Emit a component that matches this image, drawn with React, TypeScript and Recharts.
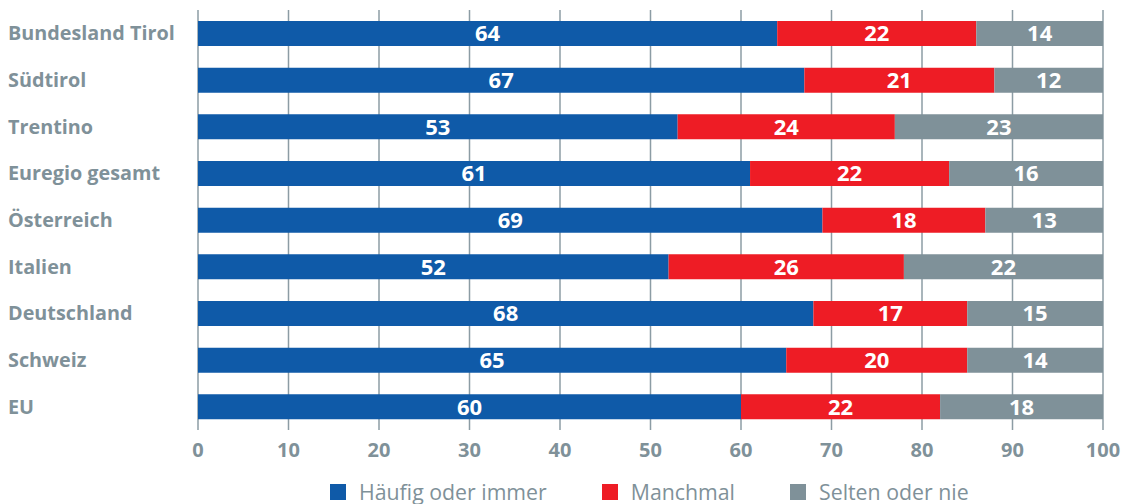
import { Bar, BarChart, CartesianGrid, LabelList, XAxis, YAxis } from "recharts";

const regions = [
  "Bundesland Tirol",
  "Südtirol",
  "Trentino",
  "Euregio gesamt",
  "Österreich",
  "Italien",
  "Deutschland",
  "Schweiz",
  "EU"
];

// widths as measured from the bars; labels as printed
const haeufig = [64, 67, 53, 61, 69, 52, 68, 65, 60];
const manchmal = [22, 21, 24, 22, 18, 26, 17, 20, 22];
const selten = [14, 12, 23, 17, 13, 22, 15, 15, 18];

const haeufigLabels = ["64", "67", "53", "61", "69", "52", "68", "65", "60"];
const manchmalLabels = ["22", "21", "24", "22", "18", "26", "17", "20", "22"];
const seltenLabels = ["14", "12", "23", "16", "13", "22", "15", "14", "18"];

const xTicks = [0, 10, 20, 30, 40, 50, 60, 70, 80, 90, 100];

const legendItems = [
  { name: "Häufig oder immer", color: "#0f5aa8" },
  { name: "Manchmal", color: "#ee1c25" },
  { name: "Selten oder nie", color: "#7f9199" }
];

const data = regions.map((region, i) => ({
  region,
  haeufig: haeufig[i],
  manchmal: manchmal[i],
  selten: selten[i],
  hL: haeufigLabels[i],
  mL: manchmalLabels[i],
  sL: seltenLabels[i]
}));

const font = "'Open Sans', 'Noto Sans', sans-serif";
const grey = "#7f9199";

function RegionTick({ y, payload }: any) {
  return (
    <text x={8} y={y} dy={7} textAnchor="start" fill={grey} fontSize={19.8} fontWeight={700} fontFamily={font}>
      {payload.value}
    </text>
  );
}

const labelStyle = { fill: "#ffffff", fontSize: 22, fontWeight: 700, fontFamily: font };

export default function App() {
  return (
    <div style={{ width: 1124, height: 504, position: "relative", background: "#fff" }}>
      <style>{"body{margin:0}.recharts-surface{overflow:visible}"}</style>
      <BarChart
        width={1124}
        height={470}
        data={data}
        layout="vertical"
        barCategoryGap={11}
        margin={{ top: 10, right: 21, bottom: 0, left: 0 }}
      >
        <CartesianGrid horizontal={false} stroke="#8c9ca4" strokeWidth={1.5} />
        <XAxis
          type="number"
          domain={[0, 100]}
          ticks={xTicks}
          axisLine={false}
          tickLine={false}
          tick={{ fill: grey, fontSize: 20, fontWeight: 700, fontFamily: font }}
          tickMargin={7}
          height={40}
        />
        <YAxis type="category" dataKey="region" width={198} axisLine={false} tickLine={false} tick={<RegionTick />} />
        <Bar dataKey="haeufig" stackId="a" fill="#0f5aa8" isAnimationActive={false}>
          <LabelList dataKey="hL" position="center" style={labelStyle} />
        </Bar>
        <Bar dataKey="manchmal" stackId="a" fill="#ee1c25" isAnimationActive={false}>
          <LabelList dataKey="mL" position="center" style={labelStyle} />
        </Bar>
        <Bar dataKey="selten" stackId="a" fill="#7f9199" isAnimationActive={false}>
          <LabelList dataKey="sL" position="center" style={labelStyle} />
        </Bar>
      </BarChart>
      <div style={{ position: "absolute", top: 482, left: 330, display: "flex", fontFamily: font, fontSize: 21.3, lineHeight: "20px", color: grey }}>
        {legendItems.map((item) => (
          <div key={item.name} style={{ display: "flex", alignItems: "center", marginRight: 55, height: 20 }}>
            <span style={{ width: 16, height: 16, background: item.color, display: "inline-block", marginRight: 13 }} />
            <span>{item.name}</span>
          </div>
        ))}
      </div>
    </div>
  );
}
